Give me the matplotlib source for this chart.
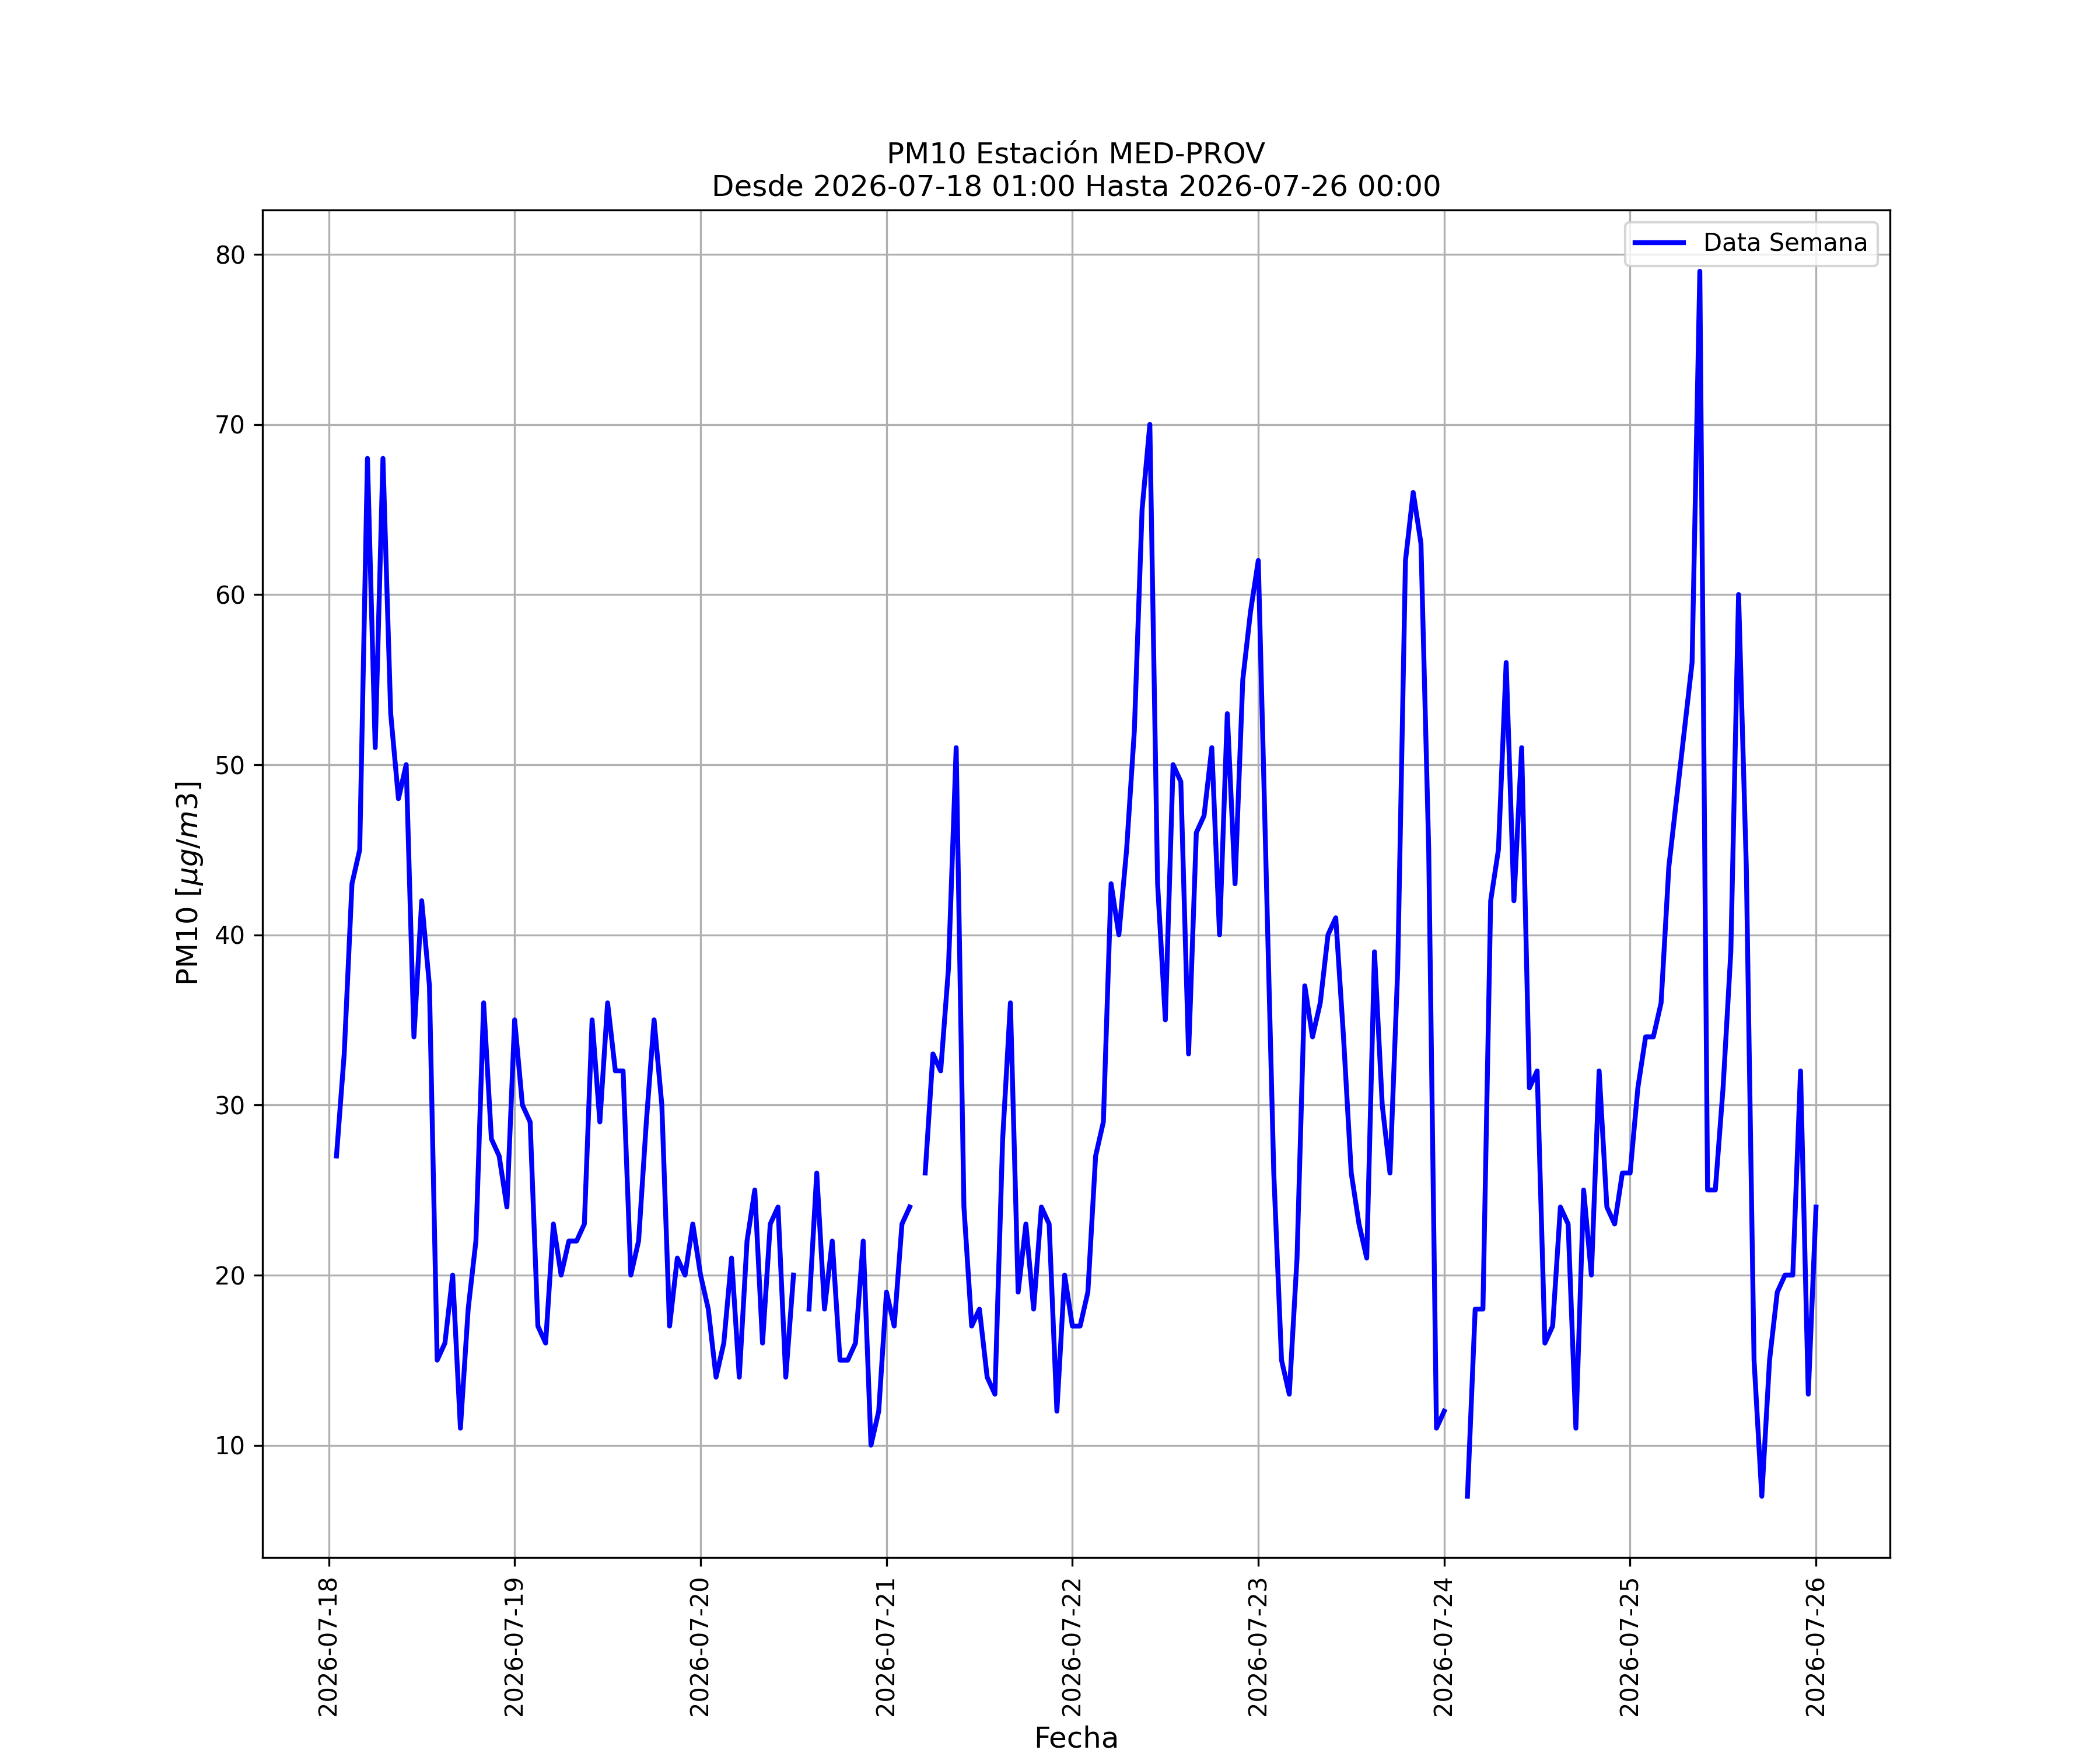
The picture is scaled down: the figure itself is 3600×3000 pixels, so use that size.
import numpy as np
import pandas as pd
import matplotlib
matplotlib.use('Agg')
import matplotlib.pyplot as plt
import matplotlib.dates as mdates

nan = np.nan

# hourly PM10, one list per day (01:00 .. 00:00 of next day)
dia_18 = [27, 33, 43, 45, 68, 51, 68, 53, 48, 50, 34, 42, 37, 15, 16, 20, 11, 18, 22, 36, 28, 27, 24, 35]
dia_19 = [30, 29, 17, 16, 23, 20, 22, 22, 23, 35, 29, 36, 32, 32, 20, 22, 29, 35, 30, 17, 21, 20, 23, 20]
dia_20 = [18, 14, 16, 21, 14, 22, 25, 16, 23, 24, 14, 20, nan, 18, 26, 18, 22, 15, 15, 16, 22, 10, 12, 19]
dia_21 = [17, 23, 24, nan, 26, 33, 32, 38, 51, 24, 17, 18, 14, 13, 28, 36, 19, 23, 18, 24, 23, 12, 20, 17]
dia_22 = [17, 19, 27, 29, 43, 40, 45, 52, 65, 70, 43, 35, 50, 49, 33, 46, 47, 51, 40, 53, 43, 55, 59, 62]
dia_23 = [44, 26, 15, 13, 21, 37, 34, 36, 40, 41, 34, 26, 23, 21, 39, 30, 26, 38, 62, 66, 63, 45, 11, 12]
dia_24 = [nan, nan, 7, 18, 18, 42, 45, 56, 42, 51, 31, 32, 16, 17, 24, 23, 11, 25, 20, 32, 24, 23, 26, 26]
dia_25 = [31, 34, 34, 36, 44, 48, 52, 56, 79, 25, 25, 31, 39, 60, 44, 15, 7, 15, 19, 20, 20, 32, 13, 24]

inicio = '2026-07-18 01:00'
fin = '2026-07-26 00:00'
estacion = 'MED-PROV'

pm10 = dia_18 + dia_19 + dia_20 + dia_21 + dia_22 + dia_23 + dia_24 + dia_25
fechas = pd.date_range(inicio, fin, freq='h')
df = pd.DataFrame({'pm10': pm10}, index=fechas)

fig = plt.figure(figsize=(12, 10))
ax = fig.add_subplot(111)
ax.plot(df.index, df['pm10'], color='blue', linewidth=2, label='Data Semana')
ax.set_title('PM10 Estación ' + estacion + '\nDesde ' + inicio + ' Hasta ' + fin, fontsize=12)
ax.set_ylabel(r'PM10 [$\mu g/m3$]', fontsize=12)
ax.set_xlabel('Fecha', fontsize=12)
ax.xaxis.set_major_locator(mdates.DayLocator())
ax.xaxis.set_major_formatter(mdates.DateFormatter('%Y-%m-%d'))
plt.setp(ax.get_xticklabels(), rotation=90)
ax.grid(True)
ax.legend(loc='upper right')
plt.savefig('out.png', dpi=300)
